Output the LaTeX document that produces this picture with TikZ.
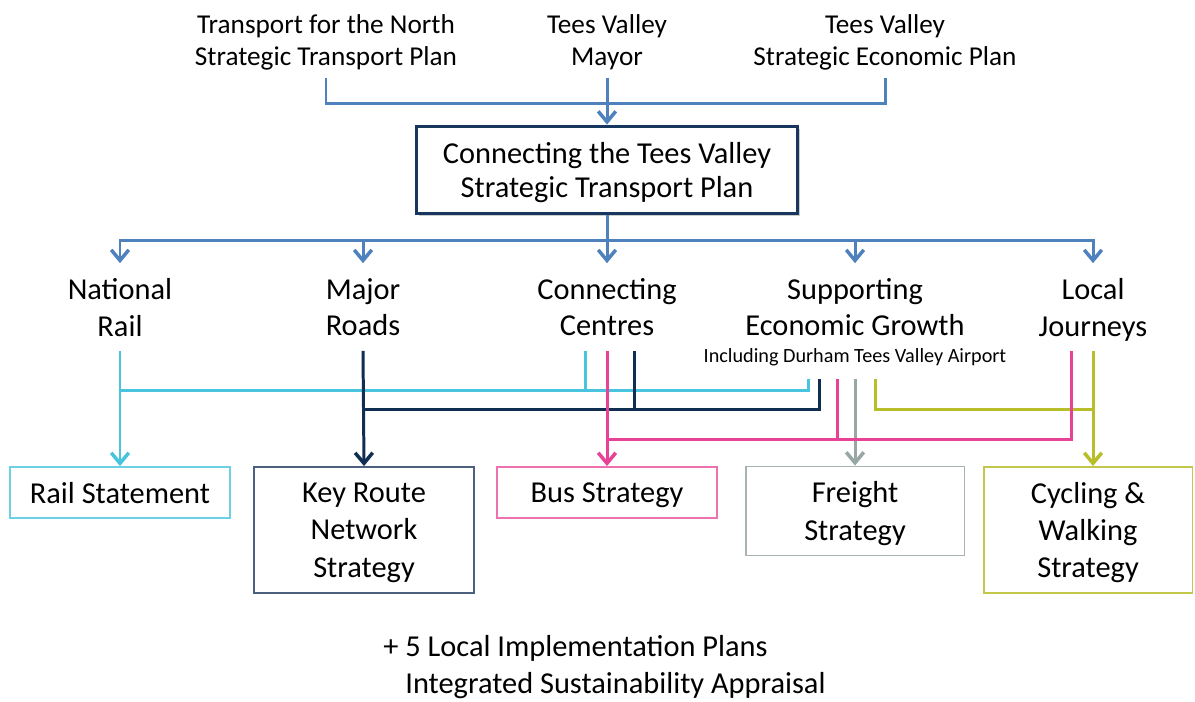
\documentclass[tikz,border=0pt]{standalone}
\usepackage{fontspec}
\setmainfont{Carlito}
\usetikzlibrary{arrows.meta,shadows}
\definecolor{spineblue}{RGB}{79,129,189}
\definecolor{plannavy}{RGB}{23,55,94}
\definecolor{railcyan}{RGB}{72,196,222}
\definecolor{roadnavy}{RGB}{16,45,82}
\definecolor{buspink}{RGB}{232,66,150}
\definecolor{freightgrey}{RGB}{152,166,166}
\definecolor{cycleolive}{RGB}{184,190,42}
\tikzset{toptext/.style={align=center,font=\fontsize{15.5}{18.7}\selectfont,minimum height=1.5cm,inner sep=0pt,text depth=0pt}}
\tikzset{plan/.style={draw=plannavy,line width=2.2pt,fill=white,align=center,minimum width=7.62cm,minimum height=1.74cm,font=\fontsize{17.3}{19.8}\selectfont,text depth=0pt,drop shadow={opacity=0.4,shadow xshift=1.5pt,shadow yshift=-1.5pt}}}
\tikzset{theme/.style={align=center,font=\fontsize{17.3}{21}\selectfont,minimum height=1.74cm,inner sep=0pt,text depth=0pt}}
\tikzset{airnote/.style={font=\fontsize{11.5}{13}\selectfont,minimum height=0.88cm,inner sep=0pt}}
\tikzset{strat/.style={draw,line width=1.1pt,align=center,minimum width=4.4cm,font=\fontsize{17.3}{21.3}\selectfont,inner sep=0pt,text depth=0pt}}
\tikzset{spine/.style={draw=spineblue,line width=1.7pt}}
\tikzset{link/.style={line width=1.7pt}}
\tikzset{>={Straight Barb[length=6pt,width=10pt,line width=2pt]}}

\begin{document}
\begin{tikzpicture}[x=0.02cm,y=-0.02cm]
    \useasboundingbox (0,0) rectangle (1195,701);

    % inputs to the plan
    \node (tfn) [toptext] at (326,40) {Transport for the North\\Strategic Transport Plan};
    \node (mayor) [toptext] at (607,40) {Tees Valley\\Mayor};
    \node (sep) [toptext] at (885,40) {Tees Valley\\Strategic Economic Plan};
    \node (plan) [plan] at (607,170) {Connecting the Tees Valley\\Strategic Transport Plan};

    \coordinate (topbar) at (607,103);
    \draw [spine] (tfn.south) |- (topbar) -| (sep.south);
    \draw [spine,->] (mayor.south) -- (plan.north);

    % themes
    \node (rail) [theme] at (120,307) {National\\Rail};
    \node (roads) [theme] at (363,307) {Major\\Roads};
    \node (centres) [theme] at (607,307) {Connecting\\Centres};
    \node (growth) [theme] at (855,307) {Supporting\\Economic Growth};
    \node (local) [theme] at (1093,307) {Local\\Journeys};
    \node (airport) [airnote] at (855,357) {Including Durham Tees Valley Airport};

    \coordinate (midbar) at (607,240);
    \draw [spine] (plan.south) -- (midbar);
    \foreach \t in {rail,roads,centres,growth,local}
        \draw [spine,->] (midbar) -| (\t.north);

    % strategies
    \node (railstmt) [strat,draw=railcyan!80!white,minimum height=1.02cm] at (120,492.5) {Rail Statement};
    \node (keyroute) [strat,draw=roadnavy!75!white,minimum height=2.52cm] at (364,530) {Key Route\\Network\\Strategy};
    \node (busstrat) [strat,draw=buspink!75!white,minimum height=1.02cm] at (607,492.5) {Bus Strategy};
    \node (freight) [strat,draw=freightgrey!85!white,minimum width=4.38cm,minimum height=1.78cm] at (855,511) {Freight\\Strategy};
    \node (cycling) [strat,draw=cycleolive!85!white,minimum width=4.18cm,minimum height=2.52cm] at (1088,530) {Cycling \&\\Walking\\Strategy};

    \coordinate (railrow) at (120,390);
    \coordinate (roadrow) at (363,409);
    \coordinate (cyclerow) at (1093,409);
    \coordinate (busrow) at (607,439);

    % rail
    \draw [link,railcyan] ([xshift=-0.94cm]airport.south) |- (railrow);
    \draw [link,railcyan] ([xshift=-0.44cm]centres.south) -- ([xshift=-0.44cm]centres.south |- railrow);
    \draw [link,railcyan,->] (rail.south) -- (railstmt.north);
    % roads
    \draw [link,roadnavy] ([xshift=-0.72cm]airport.south) |- (roadrow);
    \draw [link,roadnavy] ([xshift=0.54cm]centres.south) -- ([xshift=0.54cm]centres.south |- roadrow);
    \draw [link,roadnavy,->] (roads.south) -- (keyroute.north);
    % freight
    \draw [link,freightgrey,->] (airport.south) -- (freight.north);
    % cycling and walking
    \draw [link,cycleolive] ([xshift=0.4cm]airport.south) |- (cyclerow);
    \draw [link,cycleolive,->] (local.south) -- (local.south |- cycling.north);
    % bus
    \draw [link,buspink] ([xshift=-0.36cm]airport.south) |- (busrow);
    \draw [link,buspink] ([xshift=-0.43cm]local.south) |- (busrow);
    \draw [link,buspink,->] (centres.south) -- (busstrat.north);

    \node (lips) [anchor=west,inner sep=0pt,font=\fontsize{17.3}{21}\selectfont] at (383,648) {+ 5 Local Implementation Plans};
    \node (isa) [anchor=west,inner sep=0pt,font=\fontsize{17.3}{21}\selectfont] at (405,686) {Integrated Sustainability Appraisal};
\end{tikzpicture}
\end{document}
